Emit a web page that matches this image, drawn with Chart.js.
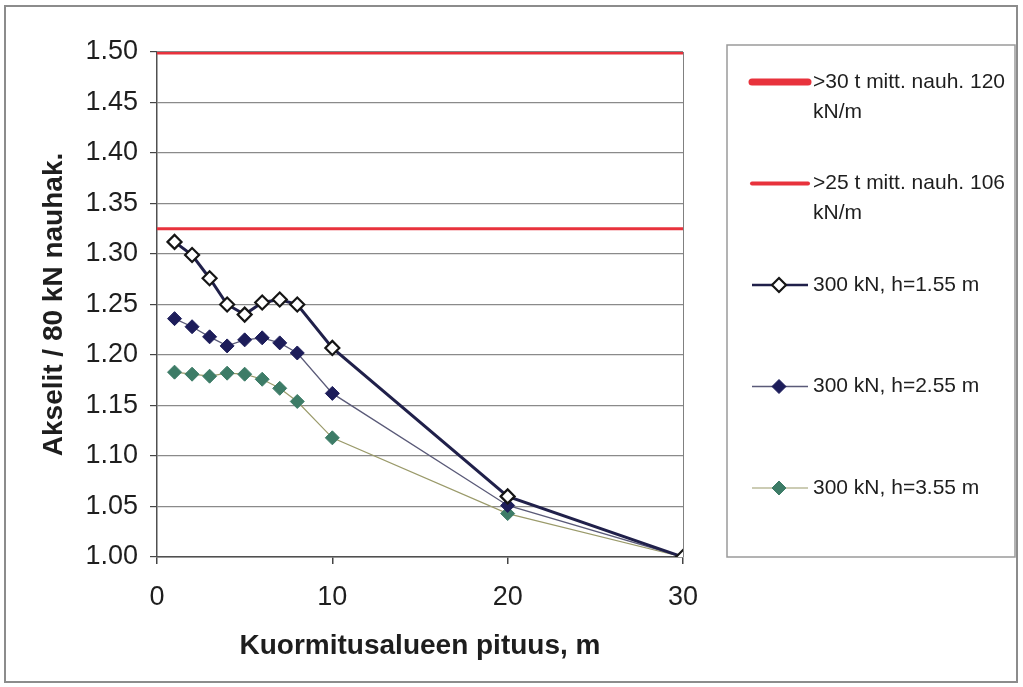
<!DOCTYPE html>
<html>
<head>
<meta charset="utf-8">
<script src="https://cdn.jsdelivr.net/npm/chart.js@4"></script>
<style>
  body { margin: 0; background: #fff; }
  #wrap { position: relative; width: 1023px; height: 687px; }
</style>
</head>
<body>
<div id="wrap"><canvas id="chart"></canvas></div>
<script>
// Kuormitusalueen pituus (m) vs. akselit / 80 kN nauhak.
const lengths = [1, 2, 3, 4, 5, 6, 7, 8, 10, 20, 30];
const h155 = [1.312, 1.299, 1.276, 1.250, 1.240, 1.252, 1.255, 1.250, 1.207, 1.060, 1.000];
const h255 = [1.236, 1.228, 1.218, 1.209, 1.215, 1.217, 1.212, 1.202, 1.162, 1.051, 1.000];
const h355 = [1.183, 1.181, 1.179, 1.182, 1.181, 1.176, 1.167, 1.154, 1.118, 1.043, 1.000];

// limit lines (120/80 and 106/80), drawn over the full x range
const limitX = [0, 30];
const limit30 = [1.5, 1.5];
const limit25 = [1.325, 1.325];

const xTicks = [0, 10, 20, 30];
const yTicks = [1.00, 1.05, 1.10, 1.15, 1.20, 1.25, 1.30, 1.35, 1.40, 1.45, 1.50];

const seriesNames = [
    ">30 t mitt. nauh. 120 kN/m",
    ">25 t mitt. nauh. 106 kN/m",
    "300 kN, h=1.55 m",
    "300 kN, h=2.55 m",
    "300 kN, h=3.55 m"
];

const FONT = "'Liberation Sans', Arial, sans-serif";
const pts = (xs, ys) => xs.map((x, i) => ({ x: x, y: ys[i] }));

// Excel-style framing + boxed legend on the right
const frame = {
    id: "frame",
    afterDraw(chart) {
        const ctx = chart.ctx;
        const a = chart.chartArea;
        ctx.save();
        ctx.strokeStyle = "#8c8c8c";
        ctx.lineWidth = 2;
        ctx.strokeRect(5, 6, 1012, 676);

        // plot area border (right side only is visible)
        ctx.strokeStyle = "#808080";
        ctx.lineWidth = 1;
        ctx.beginPath();
        ctx.moveTo(a.right + 0.5, a.top);
        ctx.lineTo(a.right + 0.5, a.bottom);
        ctx.stroke();

        // legend box
        ctx.strokeStyle = "#9a9a9a";
        ctx.lineWidth = 1.5;
        ctx.strokeRect(727, 45, 288, 512);

        ctx.font = "21px " + FONT;
        ctx.fillStyle = "#1e1e1e";
        ctx.textBaseline = "middle";
        chart.data.datasets.forEach((ds, i) => {
            const y = 82 + i * 101.5;
            // line sample
            ctx.strokeStyle = ds.borderColor;
            ctx.lineWidth = ds.legendWidth;
            ctx.lineCap = i < 2 ? "round" : "butt";
            ctx.beginPath();
            ctx.moveTo(752, y);
            ctx.lineTo(808, y);
            ctx.stroke();
            if (ds.pointRadius > 0) {
                const r = ds.pointRadius;
                ctx.beginPath();
                ctx.moveTo(779, y - r);
                ctx.lineTo(779 + r, y);
                ctx.lineTo(779, y + r);
                ctx.lineTo(779 - r, y);
                ctx.closePath();
                ctx.fillStyle = ds.pointBackgroundColor;
                ctx.fill();
                ctx.strokeStyle = ds.pointBorderColor;
                ctx.lineWidth = ds.pointBorderWidth;
                ctx.stroke();
                ctx.fillStyle = "#1e1e1e";
            }
            // wrap label text
            const words = ds.label.split(" ");
            let line = "";
            let ly = y;
            words.forEach(w => {
                const test = line ? line + " " + w : w;
                if (ctx.measureText(test).width > 200 && line) {
                    ctx.fillText(line, 813, ly);
                    line = w;
                    ly += 30;
                } else {
                    line = test;
                }
            });
            ctx.fillText(line, 813, ly);
        });
        ctx.restore();
    }
};

new Chart(document.getElementById("chart"), {
    type: "line",
    data: {
        datasets: [{
            label: seriesNames[0],
            data: pts(limitX, limit30),
            borderColor: "#e8323c",
            borderWidth: 5,
            legendWidth: 7,
            pointRadius: 0
        }, {
            label: seriesNames[1],
            data: pts(limitX, limit25),
            borderColor: "#e8323c",
            borderWidth: 3,
            legendWidth: 4,
            pointRadius: 0
        }, {
            label: seriesNames[2],
            data: pts(lengths, h155),
            borderColor: "#20204a",
            borderWidth: 3,
            legendWidth: 2.5,
            pointStyle: "rectRot",
            pointRadius: 7,
            pointBackgroundColor: "#ffffff",
            pointBorderColor: "#151515",
            pointBorderWidth: 2.2
        }, {
            label: seriesNames[3],
            data: pts(lengths, h255),
            borderColor: "#5a5a78",
            borderWidth: 1.3,
            legendWidth: 1.3,
            pointStyle: "rectRot",
            pointRadius: 7,
            pointBackgroundColor: "#1d1d5a",
            pointBorderColor: "#1d1d5a",
            pointBorderWidth: 1
        }, {
            label: seriesNames[4],
            data: pts(lengths, h355),
            borderColor: "#9a9a6a",
            borderWidth: 1.2,
            legendWidth: 1.2,
            pointStyle: "rectRot",
            pointRadius: 7,
            pointBackgroundColor: "#3d7c67",
            pointBorderColor: "#3d7c67",
            pointBorderWidth: 1
        }]
    },
    options: {
        responsive: true,
        maintainAspectRatio: false,
        animation: false,
        layout: { padding: { top: 52, right: 340, left: 0, bottom: 0 } },
        elements: { line: { tension: 0 } },
        plugins: {
            legend: { display: false },
            tooltip: { enabled: false }
        },
        scales: {
            x: {
                type: "linear",
                min: 0,
                max: 30,
                afterBuildTicks: s => { s.ticks = xTicks.map(v => ({ value: v })); },
                afterFit: s => { s.height = 130; },
                ticks: { padding: 17, color: "#1e1e1e", font: { family: FONT, size: 27 } },
                grid: { drawOnChartArea: false, tickLength: 7, tickColor: "#444", lineWidth: 1.5 },
                border: { color: "#505050", width: 1.5 },
                title: {
                    display: true,
                    text: "Kuormitusalueen pituus, m",
                    color: "#1e1e1e",
                    font: { family: FONT, size: 28, weight: "bold" },
                    padding: { top: 0, bottom: 24 }
                }
            },
            y: {
                min: 1,
                max: 1.5,
                afterBuildTicks: s => { s.ticks = yTicks.map(v => ({ value: v })); },
                afterFit: s => { s.width = 157; },
                ticks: {
                    padding: 12,
                    color: "#1e1e1e",
                    font: { family: FONT, size: 27 },
                    callback: v => v.toFixed(2)
                },
                grid: { color: "#8a8a8a", lineWidth: 1.2, tickLength: 7, tickColor: "#444" },
                border: { color: "#505050", width: 1.5 },
                title: {
                    display: true,
                    text: "Akselit / 80 kN nauhak.",
                    color: "#1e1e1e",
                    font: { family: FONT, size: 28, weight: "bold" },
                    padding: { top: 37, bottom: 0 }
                }
            }
        }
    },
    plugins: [frame]
});
</script>
</body>
</html>
